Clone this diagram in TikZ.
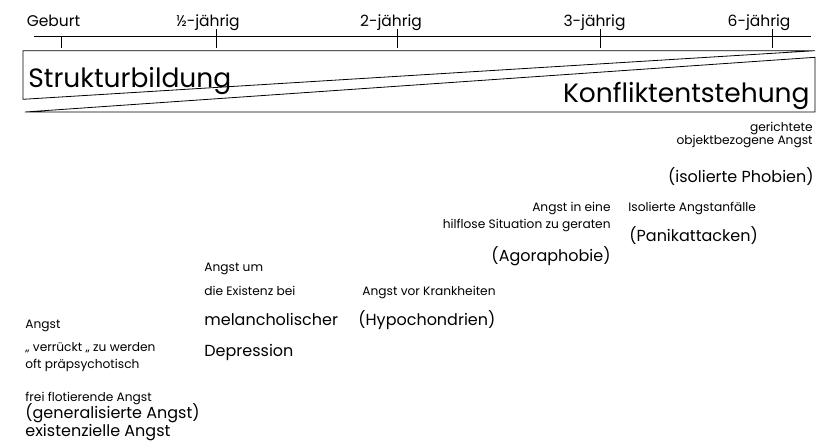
\documentclass[tikz,border=0pt]{standalone}
\usepackage{fontspec}
\setmainfont{Poppins}
\begin{document}
\begin{tikzpicture}[x=1pt,y=-1pt,
  line width=0.8pt,
  small/.style={font=\fontsize{12.2}{14}\selectfont, inner sep=0pt},
  medium/.style={font=\fontsize{16}{18}\selectfont, inner sep=0pt},
  large/.style={font=\fontsize{26.5}{30}\selectfont, inner sep=0pt},
  ticklabel/.style={font=\fontsize{15.5}{18}\selectfont, inner sep=0pt, anchor=base}]
\useasboundingbox (0,0) rectangle (837,447);

% time axis with ticks
\coordinate (axL) at (34,36.5);
\coordinate (axR) at (811,36.5);
\draw (axL) -- (axR);
\foreach \name/\x/\y in {t0/61/37, t1/216/29, t2/397/29, t3/600/29, t4/772/29}{
  \coordinate (\name a) at (\x,\y);
  \coordinate (\name b) at (\x,48);
  \draw (\name a) -- (\name b);
}
\node[ticklabel] (geburt) at (53.5,26) {Geburt};
\node[ticklabel] (halb) at (208,26) {½-jährig};
\node[ticklabel] (zwei) at (391,26) {2-jährig};
\node[ticklabel] (drei) at (594.5,26) {3-jährig};
\node[ticklabel] (sechs) at (759,26) {6-jährig};

% two wedges
\coordinate (s1) at (23,50.7);
\coordinate (s2) at (815,50.7);
\coordinate (s3) at (23,99.3);
\draw (s3) -- (s1) -- (s2) -- cycle;
\coordinate (k1) at (25,112);
\coordinate (k2) at (815,112);
\coordinate (k3) at (815,57.3);
\draw (k1) -- (k2) -- (k3) -- cycle;
\node[large, anchor=base west] (struktur) at (28,87) {Strukturbildung};
\node[large, anchor=base east] (konflikt) at (810,102) {Konfliktentstehung};

% right column
\node[small, anchor=base east] (ger) at (813,131) {gerichtete};
\node[small, anchor=base east] (obj) at (813,144) {objektbezogene Angst};
\node[medium, anchor=base east] (phob) at (814,182) {(isolierte Phobien)};
\node[small, anchor=base west] (anf) at (628,211) {Isolierte Angstanfälle};
\node[medium, anchor=base west] (panik) at (629,241) {(Panikattacken)};

% agoraphobia
\node[small, anchor=base east] (ineine) at (611,211) {Angst in eine};
\node[small, anchor=base east] (hilflos) at (611,228) {hilflose Situation zu geraten};
\node[medium, anchor=base east] (agora) at (611,261) {(Agoraphobie)};

% hypochondria
\node[small, anchor=base west] (krank) at (362,295) {Angst vor Krankheiten};
\node[medium, anchor=base west] (hypo) at (358,325) {(Hypochondrien)};

% depression
\node[small, anchor=base west] (um) at (204,271) {Angst um};
\node[small, anchor=base west] (exist) at (204,295) {die Existenz bei};
\node[medium, anchor=base west] (melan) at (204,325) {melancholischer};
\node[medium, anchor=base west] (depr) at (204,356) {Depression};

% left column
\node[small, anchor=base west] (angst) at (25,328) {Angst};
\node[small, anchor=base west] (verr) at (25,351) {„ verrückt „ zu werden};
\node[small, anchor=base west] (oft) at (25,368) {oft präpsychotisch};
\node[small, anchor=base west] (frei) at (25,401) {frei flotierende Angst};
\node[medium, anchor=base west] (gen) at (25,418) {(generalisierte Angst)};
\node[medium, anchor=base west] (exi) at (25,436) {existenzielle Angst};
\end{tikzpicture}
\end{document}
